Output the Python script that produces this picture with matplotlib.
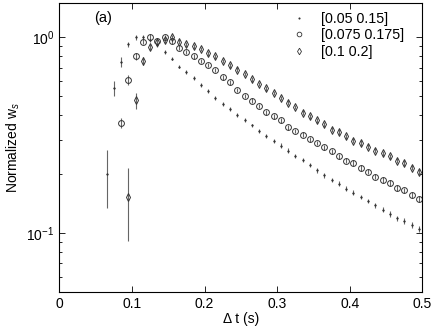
import matplotlib
matplotlib.use('Agg')
from matplotlib import pyplot as plt
from matplotlib.lines import Line2D
from matplotlib.ticker import NullFormatter, LogLocator

plt.rcParams['font.family'] = ['Liberation Sans', 'DejaVu Sans']
plt.rcParams['mathtext.fontset'] = 'custom'
plt.rcParams['mathtext.rm'] = 'Liberation Sans'
plt.rcParams['mathtext.it'] = 'Liberation Sans:italic'

# time lags (s), shared grid; circles start at dt[2], diamonds at dt[3]
dt = [0.065, 0.075, 0.085, 0.095, 0.105, 0.115, 0.125, 0.135, 0.145, 0.155,
      0.165, 0.175, 0.185, 0.195, 0.205, 0.215, 0.225, 0.235, 0.245, 0.255,
      0.265, 0.275, 0.285, 0.295, 0.305, 0.315, 0.325, 0.335, 0.345, 0.355,
      0.365, 0.375, 0.385, 0.395, 0.405, 0.415, 0.425, 0.435, 0.445, 0.455,
      0.465, 0.475, 0.485, 0.495]

labels = ['[0.05 0.15]', '[0.075 0.175]', '[0.1 0.2]']

ws1 = [0.20, 0.55, 0.75, 0.92, 1.00, 1.00, 0.97, 0.91, 0.845, 0.78,
       0.71, 0.665, 0.62, 0.57, 0.53, 0.49, 0.458, 0.43, 0.40, 0.378,
       0.355, 0.332, 0.313, 0.294, 0.28, 0.264, 0.249, 0.236, 0.223, 0.209,
       0.197, 0.187, 0.179, 0.169, 0.161, 0.153, 0.146, 0.139, 0.132, 0.125,
       0.119, 0.115, 0.110, 0.105]
err1 = [0.065, 0.05, 0.04, 0.03, 0.025, 0.025, 0.02, 0.02, 0.018, 0.016,
        0.015, 0.014, 0.013, 0.012, 0.012, 0.011, 0.01, 0.01, 0.009, 0.009,
        0.008, 0.008, 0.008, 0.007, 0.007, 0.007, 0.006, 0.006, 0.006, 0.006,
        0.005, 0.005, 0.005, 0.005, 0.005, 0.004, 0.004, 0.004, 0.004, 0.004,
        0.004, 0.004, 0.004, 0.004]

ws2 = [0.366, 0.605, 0.80, 0.95, 1.01, 0.96, 1.00, 0.955, 0.885, 0.84,
       0.80, 0.755, 0.726, 0.681, 0.624, 0.589, 0.537, 0.502, 0.475, 0.446,
       0.414, 0.396, 0.377, 0.348, 0.332, 0.319, 0.301, 0.289, 0.274, 0.262,
       0.247, 0.234, 0.228, 0.215, 0.206, 0.194, 0.187, 0.180, 0.171, 0.166,
       0.157, 0.150]
err2 = [0.022, 0.034, 0.035, 0.03, 0.03, 0.03, 0.028, 0.026, 0.024, 0.022,
        0.02, 0.019, 0.018, 0.017, 0.016, 0.015, 0.014, 0.013, 0.013, 0.012,
        0.011, 0.011, 0.01, 0.01, 0.009, 0.009, 0.009, 0.008, 0.008, 0.008,
        0.007, 0.007, 0.007, 0.007, 0.006, 0.006, 0.006, 0.006, 0.006, 0.005,
        0.005, 0.005]

ws3 = [0.153, 0.477, 0.755, 0.895, 0.95, 0.97, 1.00, 0.95, 0.92, 0.90,
       0.875, 0.83, 0.80, 0.76, 0.72, 0.685, 0.65, 0.61, 0.58, 0.55,
       0.52, 0.49, 0.464, 0.441, 0.412, 0.396, 0.377, 0.359, 0.338, 0.329,
       0.313, 0.297, 0.289, 0.277, 0.264, 0.256, 0.247, 0.234, 0.228, 0.216,
       0.206]
err3 = [0.062, 0.044, 0.035, 0.03, 0.03, 0.03, 0.028, 0.026, 0.025, 0.024,
        0.023, 0.022, 0.021, 0.02, 0.019, 0.018, 0.017, 0.016, 0.015, 0.015,
        0.014, 0.013, 0.013, 0.012, 0.012, 0.011, 0.011, 0.01, 0.01, 0.01,
        0.009, 0.009, 0.009, 0.008, 0.008, 0.008, 0.008, 0.007, 0.007, 0.007,
        0.007]

fig = plt.figure(figsize=(4.36, 3.27), dpi=100)
ax = fig.add_axes([0.136, 0.107, 0.833, 0.884])

ec = '#666666'
mc = '#333333'
styles = [dict(marker='.', ms=2.2, mfc=mc, mec=mc, mew=0.5),
          dict(marker='o', ms=4.2, mfc='none', mec=mc, mew=0.7),
          dict(marker='d', ms=4.2, mfc='none', mec=mc, mew=0.7)]

ax.errorbar(dt, ws1, yerr=err1, ls='none', ecolor=ec, elinewidth=0.8,
            capsize=0, **styles[0])
ax.errorbar(dt[2:], ws2, yerr=err2, ls='none', ecolor=ec, elinewidth=0.8,
            capsize=0, **styles[1])
ax.errorbar(dt[3:], ws3, yerr=err3, ls='none', ecolor=ec, elinewidth=0.8,
            capsize=0, **styles[2])

ax.set_yscale('log')
ax.set_xlim(0, 0.5)
ax.set_ylim(0.05, 1.5)
ax.set_xticks([0, 0.1, 0.2, 0.3, 0.4, 0.5])
ax.set_xticklabels(['0', '0.1', '0.2', '0.3', '0.4', '0.5'])
ax.yaxis.set_minor_locator(LogLocator(base=10, subs=range(2, 10)))
ax.yaxis.set_minor_formatter(NullFormatter())
ax.tick_params(which='both', direction='in', top=True, right=True,
               labelsize=10, width=0.6)
ax.tick_params(which='major', length=4)
ax.tick_params(which='minor', length=2.5)
for s in ax.spines.values():
    s.set_linewidth(0.8)

ax.set_xlabel('Δ t (s)', fontsize=10, labelpad=1)
ax.set_ylabel('Normalized w$_s$', fontsize=10, labelpad=3)
ax.text(0.095, 0.935, '(a)', transform=ax.transAxes, fontsize=10.5)

handles = [Line2D([], [], ls='none', marker=st['marker'], mfc=st['mfc'],
                  mec=st['mec'], mew=0.6, ms=st['ms'] * 0.8) for st in styles]
ax.legend(handles, labels, loc='upper right', bbox_to_anchor=(0.965, 0.99),
          borderaxespad=0, frameon=False, fontsize=10.3, handlelength=1.0,
          handletextpad=1.0, labelspacing=0.2)

plt.savefig('out.png', dpi=100)
